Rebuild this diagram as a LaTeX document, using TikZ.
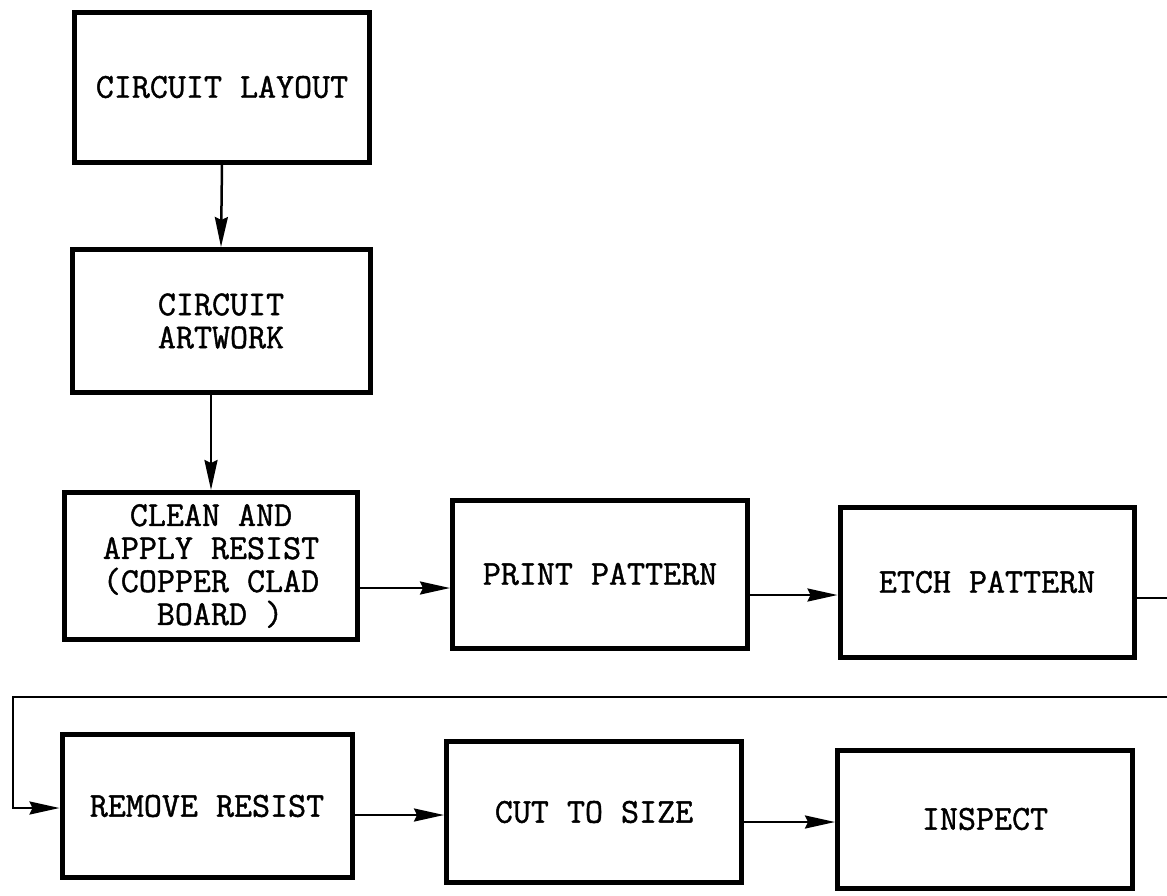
\documentclass[tikz,border=0pt]{standalone}
\usepackage{fontspec}
\setmonofont[FakeBold=1.2]{Latin Modern Mono}
\usetikzlibrary{arrows.meta}
\begin{document}
\begin{tikzpicture}[x=1pt,y=-1pt,
  box/.style={draw, line width=5pt, minimum width=295pt, minimum height=148pt,
    inner sep=0pt, align=center, font=\ttfamily\fontsize{35}{33}\selectfont},
  conn/.style={line width=2.5pt},
  arr/.style={conn, -{Stealth[length=30pt,width=13pt,inset=3pt]}}]
\useasboundingbox (0,0) rectangle (1167,895);
\node[box, minimum height=150pt] (layout) at (222,87) {CIRCUIT LAYOUT};
\node[box, minimum width=298pt, minimum height=143pt] (artwork) at (221,321) {CIRCUIT\\ARTWORK};
\node[box, minimum width=293pt, minimum height=147pt] (clean) at (211,566) {CLEAN AND\\APPLY RESIST\\(COPPER CLAD\\\ BOARD )};
\node[box] (print) at (600,574) {PRINT PATTERN};
\node[box, minimum width=294pt, minimum height=150pt] (etch) at (987,582) {ETCH PATTERN};
\node[box, minimum width=290pt, minimum height=143pt] (remove) at (207,806) {REMOVE RESIST};
\node[box, minimum height=141pt] (cut) at (594,812) {CUT TO SIZE};
\node[box, minimum height=138pt] (inspect) at (985,819) {INSPECT};
\coordinate (e1) at (1167,598);
\coordinate (r1) at (1167,697);
\coordinate (r2) at (13,697);
\draw[arr] (layout.south) -- (artwork.north);
\draw[arr] (clean.north |- artwork.south) -- (clean.north);
\draw[arr] (clean.east |- 0,588) -- (print.west |- 0,588);
\draw[arr] (print.east |- 0,595) -- (etch.west |- 0,595);
\draw[conn] (etch.east |- e1) -- (e1);
\draw[arr] (r1) -- (r2) |- (remove.west |- 0,808);
\draw[arr] (remove.east |- 0,815) -- (cut.west |- 0,815);
\draw[arr] (cut.east |- 0,822) -- (inspect.west |- 0,822);
\end{tikzpicture}
\end{document}
